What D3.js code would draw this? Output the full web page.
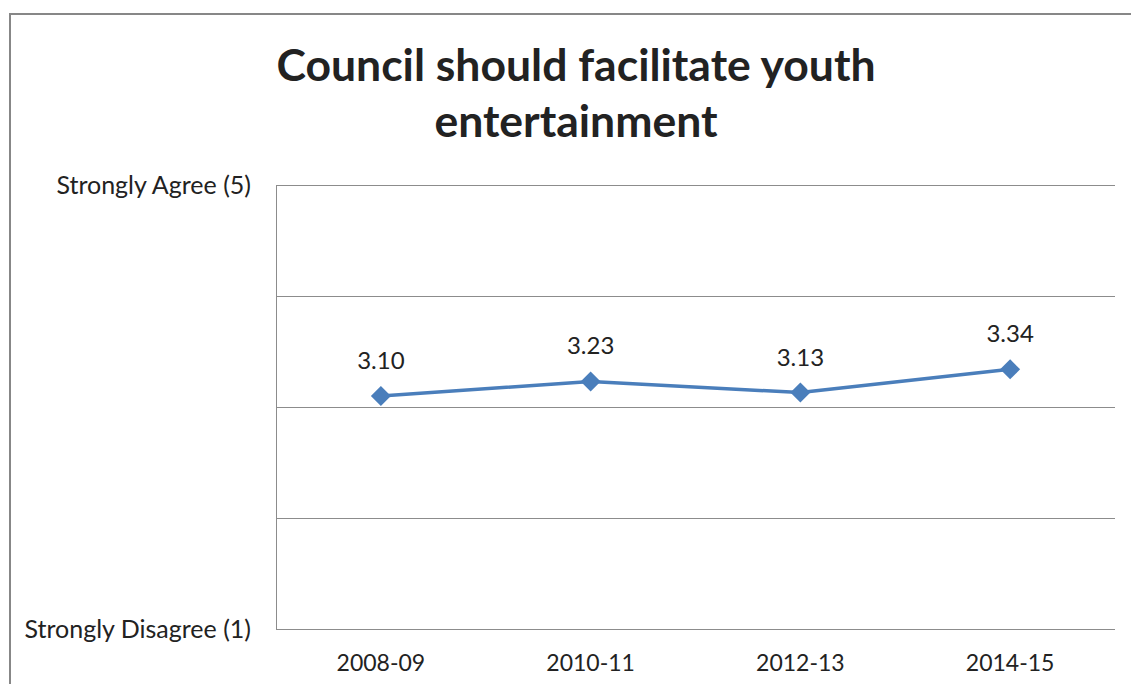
<!DOCTYPE html>
<html>
<head>
<meta charset="utf-8">
<script src="https://cdn.jsdelivr.net/npm/d3@7"></script>
<style>
  html, body { margin: 0; padding: 0; background: #fff; }
  svg { display: block; }
  text { font-family: Lato, "Open Sans", sans-serif; fill: #222; }
</style>
</head>
<body>
<svg id="chart" width="1131" height="684"></svg>
<script>
// Survey results by year (1 = Strongly Disagree, 5 = Strongly Agree)
const years = ["2008-09", "2010-11", "2012-13", "2014-15"];
const scores = [3.10, 3.23, 3.13, 3.34];
const yTicks = [1, 2, 3, 4, 5];
const yTickLabels = { 1: "Strongly Disagree (1)", 5: "Strongly Agree (5)" };
const titleLines = ["Council should facilitate youth", "entertainment"];

const svg = d3.select("#chart");
const W = 1131, H = 684;
const margin = { top: 185, right: 16, bottom: 55, left: 276 };

// Outer chart frame
svg.append("rect")
  .attr("x", 10).attr("y", 14)
  .attr("width", W + 20).attr("height", H + 20)
  .attr("fill", "none").attr("stroke", "#878787").attr("stroke-width", 2);

const x = d3.scaleBand().domain(years)
  .range([margin.left, W - margin.right]);
const y = d3.scaleLinear().domain([1, 5])
  .range([H - margin.bottom, margin.top]);

// Horizontal gridlines
svg.append("g")
  .selectAll("line").data(yTicks).join("line")
  .attr("x1", margin.left).attr("x2", W - margin.right)
  .attr("y1", d => y(d) + 0.5).attr("y2", d => y(d) + 0.5)
  .attr("stroke", "#8c8c8c").attr("stroke-width", 1);

// Left axis line
svg.append("line")
  .attr("x1", margin.left + 0.5).attr("x2", margin.left + 0.5)
  .attr("y1", y(5)).attr("y2", y(1) + 1)
  .attr("stroke", "#8c8c8c");

// Y axis labels (only the ends are named)
const yAxis = d3.axisLeft(y)
  .tickValues([1, 5])
  .tickSize(0).tickPadding(25)
  .tickFormat(d => yTickLabels[d]);
const gy = svg.append("g")
  .attr("transform", `translate(${margin.left},0)`)
  .call(yAxis);
gy.select(".domain").remove();
gy.selectAll("text")
  .style("font-size", "25px").style("font-family", "Lato, sans-serif").attr("fill", "#222");

// X axis labels
const xAxis = d3.axisBottom(x).tickSize(0).tickPadding(26);
const gx = svg.append("g")
  .attr("transform", `translate(0,${H - margin.bottom})`)
  .call(xAxis);
gx.select(".domain").remove();
gx.selectAll("text")
  .style("font-size", "23px").style("font-family", "Lato, sans-serif").attr("fill", "#222");

// Series line
const cx = d => x(d) + x.bandwidth() / 2;
const line = d3.line()
  .x((d, i) => cx(years[i]))
  .y(d => y(d));
svg.append("path")
  .datum(scores)
  .attr("d", line)
  .attr("fill", "none")
  .attr("stroke", "#4a7ebb")
  .attr("stroke-width", 3.5)
  .attr("stroke-linejoin", "round");

// Diamond markers
const diamond = d3.symbol().type(d3.symbolSquare).size(200);
svg.append("g")
  .selectAll("path").data(scores).join("path")
  .attr("d", diamond)
  .attr("transform", (d, i) => `translate(${cx(years[i])},${y(d)}) rotate(45)`)
  .attr("fill", "#4a7ebb");

// Value labels
svg.append("g")
  .selectAll("text").data(scores).join("text")
  .attr("x", (d, i) => cx(years[i]))
  .attr("y", d => y(d) - 27)
  .attr("text-anchor", "middle")
  .style("font-size", "24px")
  .text(d => d.toFixed(2));

// Title
svg.append("g")
  .selectAll("text").data(titleLines).join("text")
  .attr("x", 576)
  .attr("y", (d, i) => 81 + i * 56)
  .attr("text-anchor", "middle")
  .style("font-size", "44.5px")
  .style("font-weight", "bold")
  .attr("fill", "#000")
  .text(d => d);
</script>
</body>
</html>
